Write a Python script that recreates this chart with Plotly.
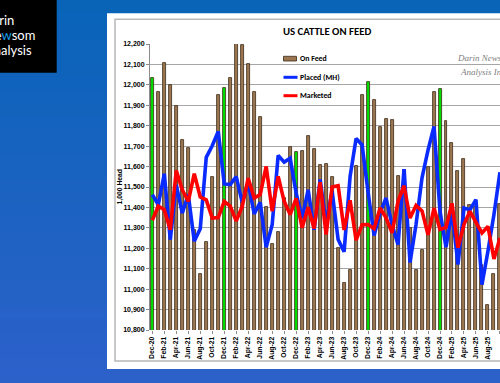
import plotly.graph_objects as go

# ---------------- data ----------------
months = ["Dec-20","Jan-21","Feb-21","Mar-21","Apr-21","May-21","Jun-21","Jul-21","Aug-21","Sep-21","Oct-21","Nov-21",
          "Dec-21","Jan-22","Feb-22","Mar-22","Apr-22","May-22","Jun-22","Jul-22","Aug-22","Sep-22","Oct-22","Nov-22",
          "Dec-22","Jan-23","Feb-23","Mar-23","Apr-23","May-23","Jun-23","Jul-23","Aug-23","Sep-23","Oct-23","Nov-23",
          "Dec-23","Jan-24","Feb-24","Mar-24","Apr-24","May-24","Jun-24","Jul-24","Aug-24","Sep-24","Oct-24","Nov-24",
          "Dec-24","Jan-25","Feb-25","Mar-25","Apr-25","May-25","Jun-25","Jul-25","Aug-25","Sep-25","Oct-25"]

on_feed = [12036, 11964, 12106, 11998, 11896, 11730, 11690, 11290, 11072, 11231, 11549, 11948,
           11984, 12036, 12230, 12195, 12104, 11967, 11843, 11401, 11220, 11280, 11446, 11695,
           11671, 11677, 11752, 11684, 11609, 11614, 11547, 11202, 11028, 11093, 11604, 11951,
           12016, 11928, 11796, 11835, 11826, 11552, 11585, 11300, 11093, 11194, 11596, 11964,
           11979, 11821, 11715, 11578, 11637, 11410, 11400, 11120, 10920, 11075, 11415]

placed = [11463, 11413, 11565, 11242, 11510, 11372, 11463, 11234, 11296, 11645, 11702, 11772,
          11515, 11512, 11551, 11425, 11519, 11368, 11425, 11205, 11315, 11655, 11622, 11641,
          11470, 11348, 11486, 11291, 11537, 11324, 11479, 11243, 11183, 11552, 11737, 11706,
          11475, 11262, 11373, 11446, 11316, 11218, 11588, 11130, 11316, 11545, 11680, 11796,
          11381, 11205, 11381, 11120, 11397, 11389, 11438, 11022, 11186, 11365, 11572]

marketed = [11337, 11406, 11389, 11291, 11581, 11486, 11429, 11565, 11451, 11437, 11348, 11350,
            11429, 11406, 11333, 11405, 11543, 11446, 11463, 11601, 11381, 11552, 11430, 11365,
            11444, 11300, 11401, 11297, 11524, 11267, 11500, 11506, 11290, 11435, 11240, 11315,
            11316, 11296, 11397, 11349, 11275, 11430, 11506, 11348, 11410, 11383, 11266, 11397,
            11292, 11302, 11420, 11202, 11316, 11381, 11327, 11275, 11307, 11148, 11251]

y_ticks = list(range(10800, 12201, 100))
x_tick_idx = list(range(0, len(months), 2))
x_tick_lbl = [months[i] for i in x_tick_idx]

# ---------------- geometry helpers ----------------
W, H = 500, 383
L, R, T, B = 150, 500, 44, 330

def px(x):
    return (x - L) / (R - L)

def py(y):
    return (B - y) / (B - T)

BROWN = "#9c7650"
GREEN = "#00e000"
SANS = "Liberation Sans, Arial, sans-serif"
CAL = "Carlito, Calibri, Lato, sans-serif"

idx = list(range(len(months)))
bar_colors = [GREEN if m.startswith("Dec") else BROWN for m in months]

fig = go.Figure()
fig.add_trace(go.Bar(x=idx, y=on_feed, width=0.5, marker=dict(color=bar_colors,
                     line=dict(color="#3b2a18", width=0.8)), name="On Feed", showlegend=False))
fig.add_trace(go.Scatter(x=idx, y=placed, mode="lines", line=dict(color="#0a2bff", width=3.6),
                         name="Placed (MH)", showlegend=False))
fig.add_trace(go.Scatter(x=idx, y=marketed, mode="lines", line=dict(color="#ff0000", width=3.6),
                         name="Marketed", showlegend=False))

shapes = []
# background gradient
top_c = (9, 100, 184)
bot_c = (44, 97, 202)
n = 30
for i in range(n):
    t = i / (n - 1)
    c = tuple(round(top_c[k] + (bot_c[k] - top_c[k]) * t) for k in range(3))
    y0 = H * i / n
    y1 = H * (i + 1) / n + 0.5
    shapes.append(dict(type="rect", xref="paper", yref="paper", x0=px(-5), x1=px(W + 5),
                       y0=py(y1), y1=py(y0), fillcolor="rgb(%d,%d,%d)" % c, line=dict(width=0), layer="below"))
# logo box
shapes.append(dict(type="rect", xref="paper", yref="paper", x0=px(-5), x1=px(56.7), y0=py(72.7), y1=py(-5),
                   fillcolor="#000000", line=dict(width=0), layer="below"))
# white chart card
shapes.append(dict(type="rect", xref="paper", yref="paper", x0=px(107), x1=px(W + 20), y0=py(369), y1=py(13.3),
                   fillcolor="#ffffff", line=dict(width=0), layer="below"))
# inner border
shapes.append(dict(type="rect", xref="paper", yref="paper", x0=px(115), x1=px(W + 20), y0=py(361), y1=py(19.3),
                   fillcolor="rgba(0,0,0,0)", line=dict(color="#b8b8b8", width=1.5), layer="below"))
# manual legend swatches
shapes.append(dict(type="rect", xref="paper", yref="paper", x0=px(283.5), x1=px(296.5), y0=py(61), y1=py(56.3),
                   fillcolor=BROWN, line=dict(color="#3b2a18", width=0.8)))
shapes.append(dict(type="line", xref="paper", yref="paper", x0=px(283.5), x1=px(297.5), y0=py(77.3), y1=py(77.3),
                   line=dict(color="#0a2bff", width=3)))
shapes.append(dict(type="line", xref="paper", yref="paper", x0=px(283.5), x1=px(297.5), y0=py(95.7), y1=py(95.7),
                   line=dict(color="#ff0000", width=3)))

annotations = []
def ann(text, x, y, size, color="#000000", xanchor="center", family=CAL, weight="bold", angle=0, style="normal"):
    annotations.append(dict(text=text, x=px(x), y=py(y), xref="paper", yref="paper", showarrow=False,
                            xanchor=xanchor, yanchor="middle", textangle=angle, borderpad=0,
                            font=dict(size=size, color=color, family=family, weight=weight, style=style)))

# logo text (partially cut off at the left edge, as in the reference)
ann("Darin", 14.8, 19.5, 13, "#ffffff", "right", "Lato", "normal")
ann("Ne<span style='color:#1a9be6'>w</span>som", 36, 35, 13, "#ffffff", "right", "Lato", "normal")
ann("Analysis", 32.5, 50, 13, "#ffffff", "right", "Lato", "normal")

# title
ann("US CATTLE ON FEED", 326.5, 31.7, 10.8)
# legend labels
ann("On Feed", 298.5, 58.7, 7.8, xanchor="left")
ann("Placed (MH)", 298.5, 77.3, 7.8, xanchor="left")
ann("Marketed", 298.5, 95.7, 7.8, xanchor="left")
# watermark
ann("Darin Newsom", 455.5, 58.3, 9, "#808080", "left", "Liberation Serif, serif", "normal", style="italic")
ann("Analysis Inc.", 459, 71.7, 9, "#808080", "left", "Liberation Serif, serif", "normal", style="italic")
# y-axis title
ann("1,000 Head", 119.5, 187, 6.8, family=SANS, angle=-90)

fig.update_layout(
    width=W, height=H,
    margin=dict(l=L, r=W - R, t=T, b=H - B, pad=0),
    paper_bgcolor="#1f63c2", plot_bgcolor="rgba(0,0,0,0)",
    bargap=0, showlegend=False,
    shapes=shapes, annotations=annotations,
    xaxis=dict(range=[-0.384, 58.01], tickmode="array", tickvals=x_tick_idx, ticktext=x_tick_lbl,
               tickangle=-90, showgrid=False, zeroline=False, showline=False,
               ticks="outside", ticklen=3, tickcolor="#8c8c8c",
               tickfont=dict(size=6.8, family=SANS, weight="bold", color="#000000")),
    yaxis=dict(range=[10800, 12200], tickmode="array", tickvals=y_ticks, tickformat=",d",
               showgrid=True, gridcolor="#a6a6a6", gridwidth=1, zeroline=False,
               showline=True, linecolor="#8c8c8c", linewidth=1,
               ticks="outside", ticklen=3, tickcolor="#8c8c8c",
               tickfont=dict(size=7, family=SANS, weight="bold", color="#000000")),
)

fig.write_html("out.html", config={"displayModeBar": False},
               post_script="document.body.style.margin='0';document.body.style.overflow='hidden';")
